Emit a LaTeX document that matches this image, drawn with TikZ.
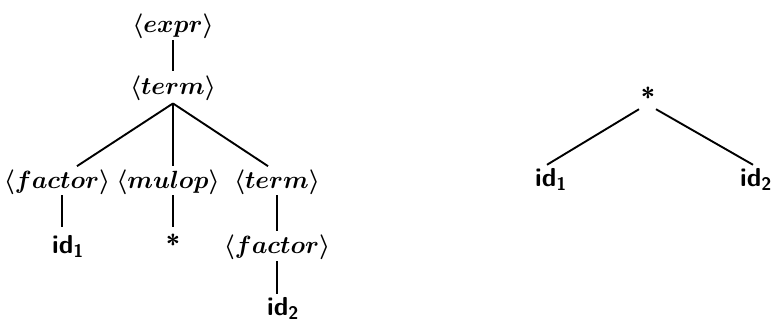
\documentclass[tikz,border=0pt]{standalone}
\usepackage{amsmath}
\begin{document}
\begin{tikzpicture}[x=1pt,y=-1pt,
  nt/.style={inner sep=0pt, anchor=base, font=\fontsize{27}{31}\selectfont\boldmath},
  tk/.style={inner sep=0pt, anchor=base, font=\fontsize{26}{30}\selectfont\sffamily\bfseries},
  edge/.style={line width=1.9pt}]
\useasboundingbox (0,0) rectangle (772,322);
\newcommand{\nterm}[1]{$\langle #1\rangle$}
\newcommand{\idn}[1]{id$_{\text{\sffamily\bfseries #1}}$}
% parse tree
\node[nt] (expr)    at (173,32)  {\nterm{expr}};
\node[nt] (term1)   at (173,94)  {\nterm{term}};
\node[nt] (factor1) at (57,188)  {\nterm{factor}};
\node[nt] (mulop)   at (168,188) {\nterm{mulop}};
\node[nt] (term2)   at (277,188) {\nterm{term}};
\node[tk] (id1)     at (68,253)  {\idn{1}};
\node[tk] (star1)   at (173,253) {*};
\node[nt] (factor2) at (277,253) {\nterm{factor}};
\node[tk] (id2)     at (283,315) {\idn{2}};
\draw[edge] ([yshift=-2pt]expr.south) -- ([yshift=4pt]term1.north);
\draw[edge] ([yshift=-3pt]term1.south) -- ([xshift=20pt,yshift=3pt]factor1.north);
\draw[edge] ([yshift=-3pt]term1.south) -- ([xshift=5pt,yshift=3pt]mulop.north);
\draw[edge] ([yshift=-3pt]term1.south) -- ([xshift=-9pt,yshift=3pt]term2.north);
\draw[edge] ([xshift=5pt,yshift=-1pt]factor1.south) -- ([xshift=-6pt,yshift=8pt]id1.north);
\draw[edge] ([xshift=5pt,yshift=-1pt]mulop.south) -- ([yshift=6pt]star1.north);
\draw[edge] ([yshift=-1pt]term2.south) -- ([yshift=3pt]factor2.north);
\draw[edge] ([yshift=-2pt]factor2.south) -- ([xshift=-6pt,yshift=3pt]id2.north);
% syntax tree
\node[tk] (star2) at (648,106) {*};
\node[tk] (rid1)  at (551,186) {\idn{1}};
\node[tk] (rid2)  at (756,186) {\idn{2}};
\draw[edge] ([xshift=-9pt,yshift=-3pt]star2.south) -- ([xshift=-4pt,yshift=3pt]rid1.north);
\draw[edge] ([xshift=8pt,yshift=-3pt]star2.south) -- ([xshift=-3pt,yshift=3pt]rid2.north);
\end{tikzpicture}
\end{document}
